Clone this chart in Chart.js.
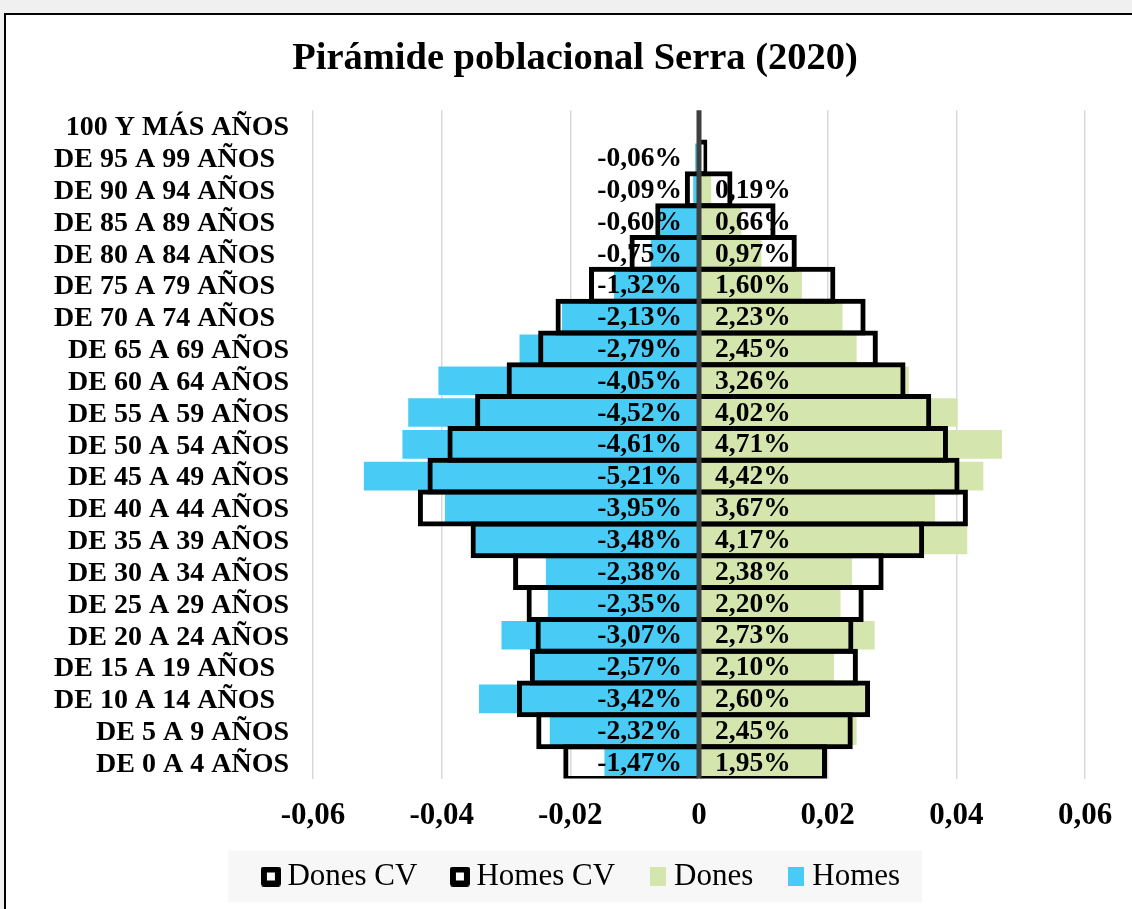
<!DOCTYPE html>
<html>
<head>
<meta charset="utf-8">
<script src="https://cdn.jsdelivr.net/npm/chart.js@4.4.1/dist/chart.umd.min.js"></script>
<style>
  html, body { margin: 0; padding: 0; background: #f0f0f0; overflow: hidden; }
  #frame { position: absolute; left: 4px; top: 13px; width: 1300px; height: 1000px;
           border-left: 2px solid #000; border-top: 2px solid #000; background: #fff; }
  #wrap { position: absolute; left: 0; top: 0; width: 1132px; height: 909px; }
</style>
</head>
<body>
<div id="frame"></div>
<div id="wrap"><canvas id="pyramid" width="1132" height="909"></canvas></div>
<script>
// Pirámide poblacional Serra (2020)
const ageGroups = [
  '100 Y MÁS AÑOS', 'DE 95 A 99 AÑOS  ', 'DE 90 A 94 AÑOS  ', 'DE 85 A 89 AÑOS  ',
  'DE 80 A 84 AÑOS  ', 'DE 75 A 79 AÑOS  ', 'DE 70 A 74 AÑOS  ', 'DE 65 A 69 AÑOS',
  'DE 60 A 64 AÑOS', 'DE 55 A 59 AÑOS', 'DE 50 A 54 AÑOS', 'DE 45 A 49 AÑOS',
  'DE 40 A 44 AÑOS', 'DE 35 A 39 AÑOS', 'DE 30 A 34 AÑOS', 'DE 25 A 29 AÑOS',
  'DE 20 A 24 AÑOS', 'DE 15 A 19 AÑOS  ', 'DE 10 A 14 AÑOS  ', 'DE 5 A 9 AÑOS',
  'DE 0 A 4 AÑOS'
];

// Serra (fractions, men negative)
const homes = [null, -0.0006, -0.0009, -0.0060, -0.0075, -0.0132, -0.0213, -0.0279, -0.0405,
  -0.0452, -0.0461, -0.0521, -0.0395, -0.0348, -0.0238, -0.0235, -0.0307, -0.0257, -0.0342,
  -0.0232, -0.0147];
const dones = [null, null, 0.0019, 0.0066, 0.0097, 0.0160, 0.0223, 0.0245, 0.0326,
  0.0402, 0.0471, 0.0442, 0.0367, 0.0417, 0.0238, 0.0220, 0.0273, 0.0210, 0.0260,
  0.0245, 0.0195];

// Comunitat Valenciana (outlined)
const homesCV = [null, -0.0003, -0.0022, -0.0068, -0.0108, -0.0171, -0.0223, -0.0250, -0.0299,
  -0.0348, -0.0391, -0.0422, -0.0437, -0.0355, -0.0289, -0.0268, -0.0254, -0.0263, -0.0283,
  -0.0253, -0.0211];
const donesCV = [null, 0.0013, 0.0052, 0.0119, 0.0152, 0.0212, 0.0259, 0.0278, 0.0321,
  0.0361, 0.0387, 0.0405, 0.0418, 0.0350, 0.0287, 0.0256, 0.0240, 0.0247, 0.0266,
  0.0239, 0.0199];

const seriesNames = ['Dones CV', 'Homes CV', 'Dones', 'Homes'];

const FONT = '"Liberation Serif", "Times New Roman", serif';
const BLUE = '#48cbf5';
const GREEN = '#d4e5ae';

function fmtPct(v) {
  return (v * 100).toFixed(2).replace('.', ',') + '%';
}

function makeMarker(w, h, draw) {
  const c = document.createElement('canvas');
  c.width = w; c.height = h;
  draw(c.getContext('2d'), w, h);
  return c;
}

const cvMarker = makeMarker(20, 20, (g, w, h) => {
  g.fillStyle = '#000';
  g.beginPath();
  g.roundRect(0, 0, w, h, 3);
  g.fill();
  g.fillStyle = '#fff';
  g.fillRect(6, 6, w - 12, h - 12);
});
const donesMarker = makeMarker(16, 19, (g, w, h) => { g.fillStyle = GREEN; g.fillRect(0, 0, w, h); });
const homesMarker = makeMarker(16, 19, (g, w, h) => { g.fillStyle = BLUE; g.fillRect(0, 0, w, h); });
const markers = [cvMarker, cvMarker, donesMarker, homesMarker];

// labels inside the Serra bars, drawn before the CV outlines go on top
const barLabels = {
  id: 'barLabels',
  afterDatasetDraw(chart, args) {
    if (args.index !== 2) return;
    const ctx = chart.ctx;
    const x0 = chart.scales.x.getPixelForValue(0);
    ctx.save();
    ctx.font = 'bold 27.5px ' + FONT;
    ctx.fillStyle = '#000';
    ctx.textBaseline = 'middle';
    [[3, 'right', -17], [2, 'left', 16]].forEach(([di, align, dx]) => {
      const meta = chart.getDatasetMeta(di);
      const data = chart.data.datasets[di].data;
      ctx.textAlign = align;
      meta.data.forEach((bar, i) => {
        if (data[i] == null) return;
        ctx.fillText(fmtPct(data[i]), x0 + dx, bar.y + 1);
      });
    });
    ctx.restore();
  }
};

const zeroLine = {
  id: 'zeroLine',
  afterDatasetsDraw(chart) {
    const { ctx, chartArea } = chart;
    const x0 = chart.scales.x.getPixelForValue(0);
    ctx.save();
    ctx.strokeStyle = '#3f3f3f';
    ctx.lineWidth = 5;
    ctx.beginPath();
    ctx.moveTo(x0, chartArea.top);
    ctx.lineTo(x0, chartArea.bottom);
    ctx.stroke();
    ctx.restore();
  }
};

// title and legend sit a little right of the padded centre in the original
const nudge = {
  id: 'nudge',
  afterLayout(chart) {
    chart.titleBlock.left += 10;
    chart.titleBlock.right += 10;
    chart.legend.left += 20;
    chart.legend.right += 20;
  }
};

const legendBg = {
  id: 'legendBg',
  beforeDraw(chart) {
    const lg = chart.legend;
    if (!lg) return;
    const cx = (lg.left + lg.right) / 2 - 10;
    chart.ctx.save();
    chart.ctx.fillStyle = '#f7f7f7';
    chart.ctx.fillRect(cx - 347, lg.top, 694, lg.height);
    chart.ctx.restore();
  }
};

const outline = {
  backgroundColor: 'rgba(0,0,0,0)',
  borderColor: '#000',
  borderWidth: 5,
  grouped: false,
  categoryPercentage: 1,
  barPercentage: 1.157
};
const filled = { grouped: false, categoryPercentage: 1, barPercentage: 0.9, borderWidth: 0 };

new Chart(document.getElementById('pyramid'), {
  type: 'bar',
  data: {
    labels: ageGroups,
    datasets: [
      { label: seriesNames[0], data: donesCV, ...outline },
      { label: seriesNames[1], data: homesCV, ...outline },
      { label: seriesNames[2], data: dones, backgroundColor: GREEN, ...filled },
      { label: seriesNames[3], data: homes, backgroundColor: BLUE, ...filled }
    ]
  },
  plugins: [nudge, legendBg, barLabels, zeroLine],
  options: {
    indexAxis: 'y',
    responsive: false,
    animation: false,
    layout: { padding: { left: 45, right: 47, top: 14, bottom: 7 } },
    plugins: {
      tooltip: { enabled: false },
      title: {
        display: true,
        text: 'Pirámide poblacional Serra (2020)',
        color: '#000',
        font: { family: FONT, size: 38.5, weight: 'bold', lineHeight: 1.2 },
        padding: { top: 22, bottom: 28 }
      },
      legend: {
        position: 'bottom',
        labels: {
          color: '#000',
          font: { family: FONT, size: 31 },
          padding: 10.5,
          usePointStyle: true,
          boxWidth: 2,
          boxHeight: 31,
          generateLabels(chart) {
            const items = Chart.defaults.plugins.legend.labels.generateLabels(chart);
            return items.map((it, i) => ({
              ...it,
              text: i < items.length - 1 ? it.text + '    ' : it.text,
              pointStyle: markers[i]
            }));
          }
        }
      }
    },
    scales: {
      x: {
        min: -0.06,
        max: 0.06,
        ticks: {
          stepSize: 0.02,
          color: '#000',
          padding: 19,
          font: { family: FONT, size: 31, weight: 'bold' },
          callback: v => Math.abs(v) < 1e-9 ? '0' : v.toFixed(2).replace('.', ',')
        },
        grid: { color: '#d9d9d9', lineWidth: 1.5, drawTicks: false },
        border: { display: false },
        afterFit(scale) { scale.height = 72; }
      },
      y: {
        ticks: {
          color: '#000',
          padding: 24,
          labelOffset: 2,
          autoSkip: false,
          font: { family: FONT, size: 28, weight: 'bold' }
        },
        grid: { display: false, drawTicks: false },
        border: { display: false },
        afterFit(scale) { scale.width = 268; }
      }
    }
  }
});
</script>
</body>
</html>
